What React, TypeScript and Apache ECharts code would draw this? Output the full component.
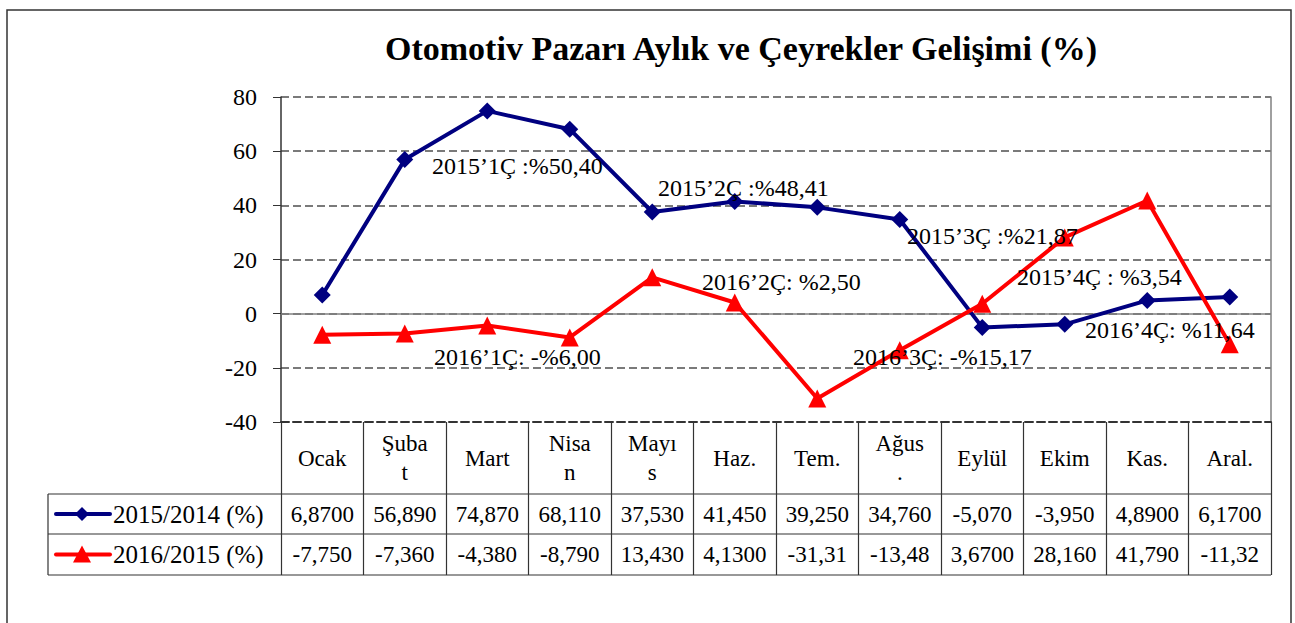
import React, { useEffect, useRef } from "react";
import * as echarts from "echarts";

const months = ["Ocak", "Şuba\nt", "Mart", "Nisa\nn", "Mayı\ns", "Haz.", "Tem.", "Ağus\n.", "Eylül", "Ekim", "Kas.", "Aral."];
const series2015 = [6.87, 56.89, 74.87, 68.11, 37.53, 41.45, 39.25, 34.76, -5.07, -3.95, 4.89, 6.17];
const series2016 = [-7.75, -7.36, -4.38, -8.79, 13.43, 4.13, -31.31, -13.48, 3.67, 28.16, 41.79, -11.32];
const seriesNames = ["2015/2014 (%)", "2016/2015 (%)"];
const titleText = "Otomotiv Pazarı Aylık ve Çeyrekler Gelişimi (%)";
const yMin = -40;
const yMax = 80;
const yStep = 20;
const annotationTexts = [
  "2015’1Ç :%50,40",
  "2015’2Ç :%48,41",
  "2016’1Ç: -%6,00",
  "2016’2Ç: %2,50",
  "2015’3Ç :%21,87",
  "2015’4Ç : %3,54",
  "2016’3Ç: -%15,17",
  "2016’4Ç: %11,64",
];
// layout only (left x, middle y) for the annotations
const annotationPos = [
  [432, 166],
  [658, 188],
  [434, 357],
  [702, 282],
  [907, 236],
  [1017, 277],
  [853, 357],
  [1085, 330],
];

const NAVY = "#000080";
const RED = "#FF0000";
const FONT = "Liberation Serif";

const W = 1295;
const H = 623;
const gridLeft = 281;
const gridRight = 1271;
const gridTop = 97;
const gridBottom = 422;
const headerBottom = 494;
const row1Bottom = 534;
const row2Bottom = 575;
const tableLeft = 48;

function fmt(v: number): string {
  for (let d = 4; d >= 0; d--) {
    const s = v.toFixed(d).replace(".", ",");
    if (s.length <= 6) return s;
  }
  return String(v);
}

export default function App() {
  const ref = useRef<HTMLDivElement>(null);
  useEffect(() => {
    if (!ref.current) return;
    const chart = echarts.init(ref.current, null, { renderer: "svg" });
    const colW = (gridRight - gridLeft) / months.length;
    const graphics: any[] = [];
    graphics.push({
      type: "rect",
      shape: { x: 7, y: 10, width: 1284, height: 640 },
      style: { fill: "none", stroke: "#333", lineWidth: 1.5 },
      silent: true,
    });
    graphics.push({
      type: "text",
      x: 741,
      y: 48,
      style: {
        text: titleText,
        fontFamily: FONT,
        fontSize: 34,
        fontWeight: "bold",
        fill: "#000",
        textAlign: "center",
        textVerticalAlign: "middle",
      },
    });
    annotationTexts.forEach((t, i) => {
      graphics.push({
        type: "text",
        x: annotationPos[i][0],
        y: annotationPos[i][1],
        z: 10,
        style: {
          text: t,
          fontFamily: FONT,
          fontSize: 24,
          fill: "#000",
          textAlign: "left",
          textVerticalAlign: "middle",
        },
      });
    });
    [headerBottom, row1Bottom, row2Bottom].forEach((y) => {
      graphics.push({
        type: "line",
        shape: { x1: tableLeft, y1: y, x2: gridRight, y2: y },
        style: { stroke: "#333", lineWidth: 1.2 },
      });
    });
    graphics.push({
      type: "line",
      shape: { x1: tableLeft, y1: headerBottom, x2: tableLeft, y2: row2Bottom },
      style: { stroke: "#333", lineWidth: 1.2 },
    });
    const rowMid = [(headerBottom + row1Bottom) / 2, (row1Bottom + row2Bottom) / 2];
    const allSeries = [series2015, series2016];
    allSeries.forEach((arr, r) => {
      arr.forEach((v, i) => {
        graphics.push({
          type: "text",
          x: gridLeft + colW * (i + 0.5),
          y: rowMid[r],
          style: {
            text: fmt(v),
            fontFamily: FONT,
            fontSize: 23,
            fill: "#000",
            textAlign: "center",
            textVerticalAlign: "middle",
          },
        });
      });
      const color = r === 0 ? NAVY : RED;
      graphics.push({
        type: "line",
        shape: { x1: 56, y1: rowMid[r], x2: 110, y2: rowMid[r] },
        style: { stroke: color, lineWidth: 4, lineCap: "round" },
      });
      if (r === 0) {
        graphics.push({
          type: "polygon",
          shape: { points: [[82, rowMid[r] - 7], [89, rowMid[r]], [82, rowMid[r] + 7], [75, rowMid[r]]] },
          style: { fill: color },
        });
      } else {
        graphics.push({
          type: "polygon",
          shape: { points: [[82, rowMid[r] - 9], [91, rowMid[r] + 8], [73, rowMid[r] + 8]] },
          style: { fill: color },
        });
      }
      graphics.push({
        type: "text",
        x: 113,
        y: rowMid[r],
        style: {
          text: seriesNames[r],
          fontFamily: FONT,
          fontSize: 25,
          fill: "#000",
          textAlign: "left",
          textVerticalAlign: "middle",
        },
      });
    });

    chart.setOption({
      animation: false,
      backgroundColor: "#fff",
      grid: {
        left: gridLeft,
        right: W - gridRight,
        top: gridTop,
        bottom: H - gridBottom,
        containLabel: false,
      },
      xAxis: {
        type: "category",
        data: months,
        boundaryGap: true,
        axisLine: { show: true, onZero: false, lineStyle: { color: "#333", type: [8, 4], width: 2 } },
        axisTick: {
          show: true,
          alignWithLabel: false,
          length: row2Bottom - gridBottom,
          lineStyle: { color: "#333", width: 1.2 },
        },
        axisLabel: {
          interval: 0,
          margin: (headerBottom - gridBottom) / 2,
          verticalAlign: "middle",
          fontFamily: FONT,
          fontSize: 23,
          lineHeight: 29,
          color: "#000",
        },
      },
      yAxis: [
        {
          type: "value",
          min: yMin,
          max: yMax,
          interval: yStep,
          axisLine: { show: true, lineStyle: { color: "#333", width: 1.5 } },
          axisTick: { show: true, length: 8, lineStyle: { color: "#333" } },
          axisLabel: { fontFamily: FONT, fontSize: 24, color: "#000", margin: 24 },
          splitLine: { show: true, lineStyle: { color: "#7a7a7a", type: [8, 4], width: 2.2 } },
        },
        {
          type: "value",
          position: "right",
          min: yMin,
          max: yMax,
          interval: yStep,
          axisLine: { show: true, lineStyle: { color: "#808080", width: 1.5 } },
          axisTick: { show: false },
          axisLabel: { show: false },
          splitLine: { show: false },
        },
      ],
      series: [
        {
          name: seriesNames[0],
          type: "line",
          data: series2015,
          yAxisIndex: 0,
          symbol: "diamond",
          symbolSize: 17,
          itemStyle: { color: NAVY },
          lineStyle: { color: NAVY, width: 4 },
          z: 3,
          markLine: {
            silent: true,
            symbol: "none",
            label: { show: false },
            lineStyle: { color: "#808080", type: "solid", width: 1.5 },
            data: [{ yAxis: 0 }],
            z: 1,
          },
        },
        {
          name: seriesNames[1],
          type: "line",
          data: series2016,
          yAxisIndex: 0,
          symbol: "triangle",
          symbolSize: 18,
          itemStyle: { color: RED },
          lineStyle: { color: RED, width: 4 },
          z: 4,
        },
      ],
      graphic: graphics,
    });
    return () => chart.dispose();
  }, []);
  return (
    <div
      ref={ref}
      style={{ position: "fixed", left: 0, top: 0, width: W, height: H, background: "#fff" }}
    />
  );
}
